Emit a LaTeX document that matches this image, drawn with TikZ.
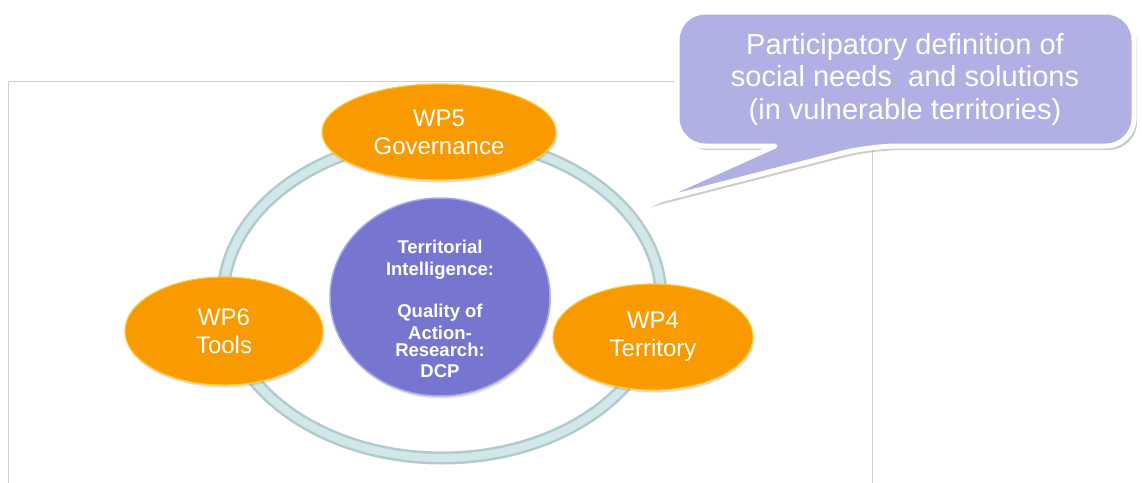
\documentclass[tikz,border=0pt]{standalone}
\usepackage{fontspec}
\setmainfont{Liberation Sans}
\usetikzlibrary{shapes.geometric,shadows}
\definecolor{wporange}{HTML}{F99B00}
\definecolor{wprim}{HTML}{FFC933}
\definecolor{tiblue}{HTML}{7676D0}
\definecolor{tirim}{HTML}{A8A8EC}
\definecolor{ringedge}{HTML}{B0CBCE}
\definecolor{ringcore}{HTML}{D2E7E9}
\definecolor{callfill}{HTML}{B0B0E4}
\definecolor{framegray}{HTML}{D0D0D0}
\begin{document}
\begin{tikzpicture}[x=1pt,y=-1pt,
  wpnode/.style={ellipse, fill=wporange, draw=wprim, line width=1.2pt, inner sep=0pt,
    text=white, font=\fontsize{24}{28}\selectfont, align=center,
    drop shadow={shadow xshift=1pt,shadow yshift=-2.5pt,opacity=0.25}},
  tinode/.style={ellipse, fill=tiblue, draw=tirim, line width=1.5pt, inner sep=0pt,
    drop shadow={shadow xshift=1pt,shadow yshift=-2.5pt,opacity=0.25}},
  titextstyle/.style={text=white, align=center, font=\fontsize{18.5}{21.5}\selectfont\bfseries},
  calloutbox/.style={fill=callfill, draw=white, line width=5pt, line join=round,
    drop shadow={shadow xshift=3pt,shadow yshift=-4pt,opacity=0.4}},
  callouttext/.style={text=white, align=center, font=\fontsize{29}{32.5}\selectfont},
  framestyle/.style={draw=framegray, line width=0.8pt},
  ringouter/.style={draw=ringedge, line width=13pt},
  ringinner/.style={draw=ringcore, line width=8pt}]
\useasboundingbox (0,0) rectangle (1142,482);
% frame
\draw[framestyle] (8,81) rectangle (872,520);
% ring
\coordinate (ringc) at (442,298);
\draw[ringouter] (ringc) ellipse [x radius=219, y radius=160];
\draw[ringinner] (ringc) ellipse [x radius=219, y radius=160];
% work packages
\node[wpnode, minimum width=234, minimum height=96] (wp5) at (439,132) {WP5\\Governance};
\node[wpnode, minimum width=198, minimum height=108] (wp6) at (224,331) {WP6\\Tools};
\node[wpnode, minimum width=200, minimum height=106] (wp4) at (653,337) {WP4\\Territory};
% centre
\node[tinode, minimum width=220, minimum height=198] (ti) at (440,297) {};
\node[titextstyle] (titext) at (440,309) {Territorial\\Intelligence:\\[21pt]Quality of\\Action-\\[-4.5pt]Research:\\DCP};
% callout
\draw[calloutbox] [rounded corners=28] (677,80) |- (1134,12) |- (870,146)
  [sharp corners] -- (648,203) -- (775,146) [rounded corners=28] -| (677,80) -- cycle;
\node[callouttext] (callout) at (905,79) {Participatory definition of\\social needs\ \ and solutions\\(in vulnerable territories)};
\end{tikzpicture}
\end{document}
